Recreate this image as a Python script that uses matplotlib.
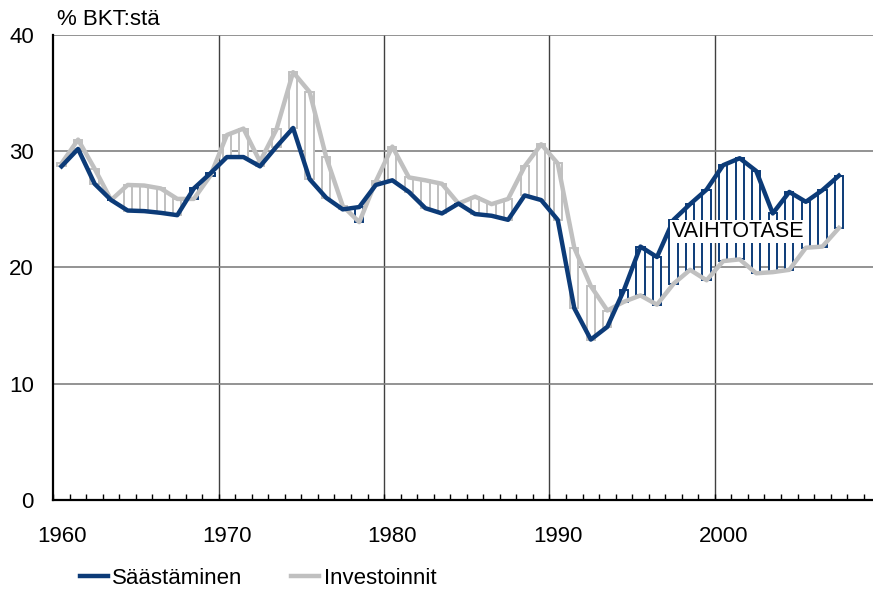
import numpy as np
import matplotlib.pyplot as plt
from matplotlib.patches import Rectangle

years = np.arange(1960, 2008)

saastaminen = [28.7, 30.2, 27.2, 25.8, 24.9, 24.85, 24.7, 24.5, 26.8, 28.1,
               29.5, 29.5, 28.7, 30.4, 32.0, 27.6, 26.0, 25.0, 25.2, 27.1,
               27.5, 26.5, 25.1, 24.65, 25.5, 24.6, 24.45, 24.1, 26.2, 25.8,
               24.1, 16.5, 13.8, 14.9, 18.05, 21.8, 20.9, 24.1, 25.45, 26.7,
               28.8, 29.4, 28.3, 24.65, 26.5, 25.65, 26.65, 27.9]

investoinnit = [28.95, 31.0, 28.5, 25.8, 27.1, 27.05, 26.8, 25.9, 25.9, 27.9,
                31.4, 31.95, 29.1, 31.9, 36.8, 35.1, 29.5, 25.3, 23.9, 27.4,
                30.4, 27.75, 27.5, 27.2, 25.5, 26.1, 25.45, 25.9, 28.7, 30.6,
                28.95, 21.7, 18.4, 16.3, 17.05, 17.6, 16.8, 18.6, 19.8, 18.9,
                20.55, 20.7, 19.5, 19.6, 19.8, 21.7, 21.8, 23.4]

decades = [1960, 1970, 1980, 1990, 2000]
blue = '#0c3b78'
grey = '#c0c0c0'

plt.rcParams['font.family'] = ['Liberation Sans', 'DejaVu Sans']

fig = plt.figure(figsize=(8.73, 5.92), dpi=100)
ax = fig.add_axes([0.061, 0.1554, 0.939, 0.7855])

x = years + 0.5

# up-down bars between the two series
bw = 0.5
for xi, s, inv in zip(x, saastaminen, investoinnit):
    col = blue if s >= inv else grey
    ax.add_patch(Rectangle((xi - bw / 2, min(s, inv)), bw, abs(s - inv),
                           facecolor='white', edgecolor=col, lw=1.4, zorder=3))

ax.plot(x, investoinnit, color=grey, lw=3.2, zorder=4, label='Investoinnit')
ax.plot(x, saastaminen, color=blue, lw=3.2, zorder=4, label='Säästäminen')

ax.set_xlim(1960, 2009.56)
ax.set_ylim(0, 40)
ax.set_yticks([0, 10, 20, 30, 40])
ax.grid(axis='y', color='#808080', lw=1.2, zorder=0)
for d in decades[1:]:
    ax.axvline(d, color='#404040', lw=1.0, zorder=0)

ax.set_xticks([d + 0.5 for d in decades], [str(d) for d in decades])
ax.set_xticks(np.arange(1960, 2010), minor=True)
ax.tick_params(axis='x', which='major', length=0, pad=19, labelsize=16)
ax.tick_params(axis='x', which='minor', direction='in', length=4, width=1)
ax.tick_params(axis='y', length=0, pad=14, labelsize=16)

for side in ['top', 'right']:
    ax.spines[side].set_visible(False)
for side in ['left', 'bottom']:
    ax.spines[side].set_linewidth(1.6)

ax.text(2001.4, 23.1, 'VAIHTOTASE', fontsize=15.5, ha='center', va='center',
        zorder=6, bbox=dict(facecolor='white', edgecolor='none', pad=1))

fig.text(57 / 873, 1 - 25 / 592, '% BKT:stä', fontsize=16, ha='left',
         va='baseline')

h, l = ax.get_legend_handles_labels()
fig.legend(h[::-1], l[::-1], loc='center left', bbox_to_anchor=(80 / 873, 14 / 592),
           ncol=2, frameon=False, fontsize=16, handlelength=1.25,
           handletextpad=0.2, columnspacing=2.2, borderpad=0, borderaxespad=0)

fig.savefig('out.png', dpi=100)
